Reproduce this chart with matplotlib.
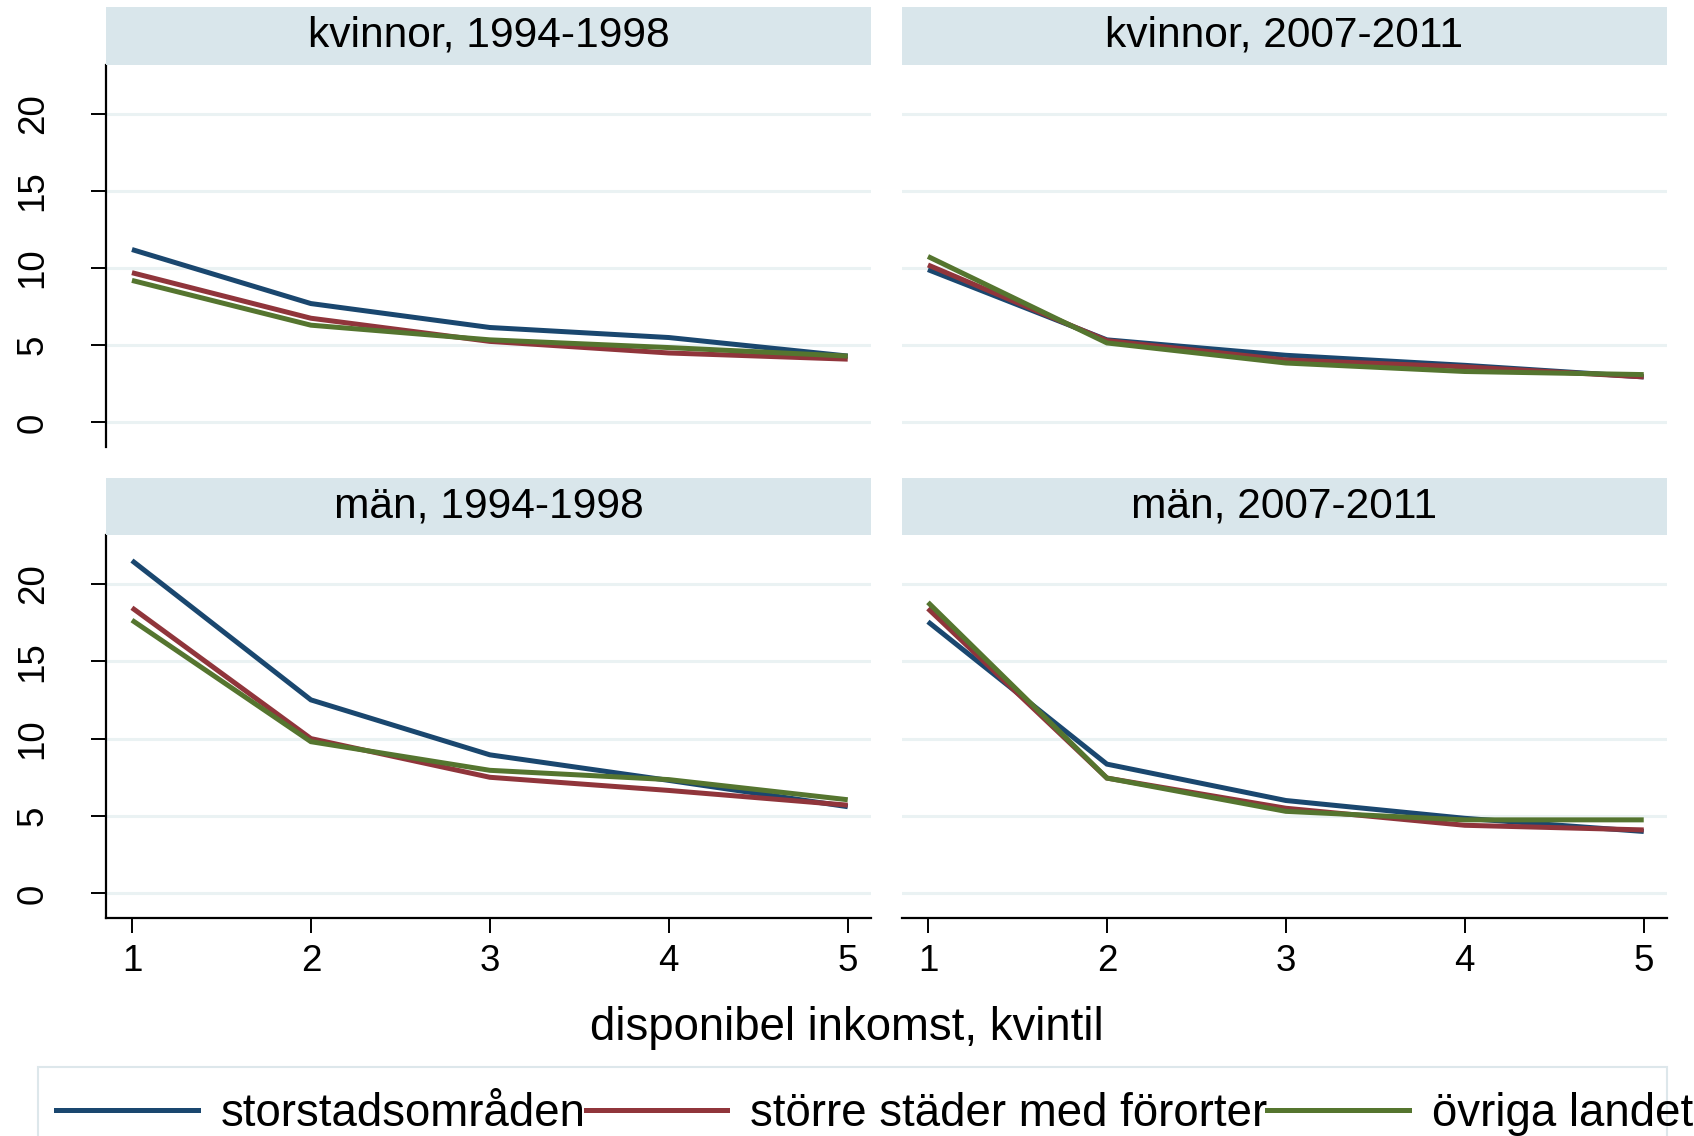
import matplotlib
matplotlib.use('Agg')
import matplotlib.pyplot as plt
from matplotlib.lines import Line2D
from matplotlib.patches import Rectangle

plt.rcParams['font.family'] = ['Liberation Sans', 'DejaVu Sans']

# ---------------- data ----------------
quintiles = [1, 2, 3, 4, 5]
regions = ['storstadsområden', 'större städer med förorter', 'övriga landet']
panel_titles = ['kvinnor, 1994-1998', 'kvinnor, 2007-2011',
                'män, 1994-1998', 'män, 2007-2011']

kvinnor_9498_stor = [11.2, 7.7, 6.15, 5.5, 4.3]
kvinnor_9498_storre = [9.7, 6.75, 5.25, 4.5, 4.1]
kvinnor_9498_ovriga = [9.2, 6.3, 5.35, 4.85, 4.3]

kvinnor_0711_stor = [9.9, 5.35, 4.35, 3.7, 2.95]
kvinnor_0711_storre = [10.2, 5.3, 4.05, 3.6, 2.95]
kvinnor_0711_ovriga = [10.75, 5.15, 3.85, 3.3, 3.1]

man_9498_stor = [21.5, 12.5, 8.95, 7.3, 5.6]
man_9498_storre = [18.45, 10.0, 7.5, 6.65, 5.7]
man_9498_ovriga = [17.65, 9.8, 7.95, 7.35, 6.05]

man_0711_stor = [17.55, 8.35, 6.0, 4.85, 4.0]
man_0711_storre = [18.4, 7.45, 5.5, 4.4, 4.1]
man_0711_ovriga = [18.8, 7.45, 5.3, 4.75, 4.75]

panel_data = [
    [kvinnor_9498_stor, kvinnor_9498_storre, kvinnor_9498_ovriga],
    [kvinnor_0711_stor, kvinnor_0711_storre, kvinnor_0711_ovriga],
    [man_9498_stor, man_9498_storre, man_9498_ovriga],
    [man_0711_stor, man_0711_storre, man_0711_ovriga],
]

yticks = [0, 5, 10, 15, 20]
xlabel = 'disponibel inkomst, kvintil'

# ---------------- style ----------------
colors = ['#1a476f', '#90353b', '#55752f']
strip_color = '#d9e6eb'
grid_color = '#eaf2f3'
W, H = 1694, 1136
LW = 3.6


def rect(left, top, right, bottom):
    return [left / W, 1 - bottom / H, (right - left) / W, (bottom - top) / H]


fig = plt.figure(figsize=(W / 100, H / 100), dpi=100)
fig.patch.set_facecolor('white')

cols = [(106, 871), (902, 1667)]
rows = [((6.7, 65), (65, 446.7)), ((477.5, 535), (535, 917.7))]

for i in range(4):
    r, c = divmod(i, 2)
    left, right = cols[c]
    (st, sb), (pt, pb) = rows[r]

    ax = fig.add_axes(rect(left, pt, right, pb))
    ax.set_xlim(0.855, 5.13)
    ax.set_ylim(-1.57, 23.15)
    ax.set_yticks(yticks)
    ax.set_xticks(quintiles)
    ax.set_axisbelow(True)
    ax.yaxis.grid(True, color=grid_color, lw=2.2)
    ax.xaxis.grid(False)

    for series, col in zip(panel_data[i], colors):
        ax.plot(quintiles, series, color=col, lw=LW, solid_capstyle='butt',
                solid_joinstyle='miter', zorder=3)

    for s in ['top', 'right', 'left', 'bottom']:
        ax.spines[s].set_visible(False)
    ax.tick_params(direction='out', length=10.8, width=1.4, colors='black',
                   labelsize=26.5)
    ax.tick_params(axis='x', pad=8.3)
    ax.tick_params(axis='y', pad=29, labelrotation=90)
    plt.setp(ax.get_yticklabels(), va='center')

    if c == 0:
        ax.spines['left'].set_visible(True)
        ax.spines['left'].set_linewidth(1.6)
    else:
        ax.tick_params(axis='y', left=False, labelleft=False)
    if r == 1:
        ax.spines['bottom'].set_visible(True)
        ax.spines['bottom'].set_linewidth(1.6)
    else:
        ax.tick_params(axis='x', bottom=False, labelbottom=False)

    sax = fig.add_axes(rect(left, st, right, sb))
    sax.set_facecolor(strip_color)
    sax.set_xticks([])
    sax.set_yticks([])
    for s in sax.spines.values():
        s.set_visible(False)
    sax.text(0.5, 0.5, panel_titles[i], ha='center', va='center',
             fontsize=30.6, transform=sax.transAxes)

fig.text(0.5, 1 - 1040 / H, xlabel, ha='center', va='baseline', fontsize=32.8)

# legend frame (Stata-style box, cut off by the figure's lower edge)
frame = Rectangle((38 / W, -0.05), 1629 / W, 1 - 1067 / H + 0.05,
                  transform=fig.transFigure, facecolor='white',
                  edgecolor='#dde7eb', lw=1.5, zorder=1)
fig.add_artist(frame)

LEG_FS = 32.9
BPAD = 0.55
bpad_px = BPAD * LEG_FS * 100 / 72
handles = [Line2D([], [], color=col, lw=LW) for col in colors]
leg = fig.legend(handles, regions, loc='upper left',
                 bbox_to_anchor=((56 - bpad_px) / W, 1 - 1067 / H),
                 ncol=3, fontsize=LEG_FS, frameon=False,
                 borderaxespad=0, borderpad=BPAD, handlelength=3.1,
                 handletextpad=0.5, columnspacing=0.0)
leg.set_zorder(5)

fig.savefig('out.png', dpi=100, facecolor='white')
